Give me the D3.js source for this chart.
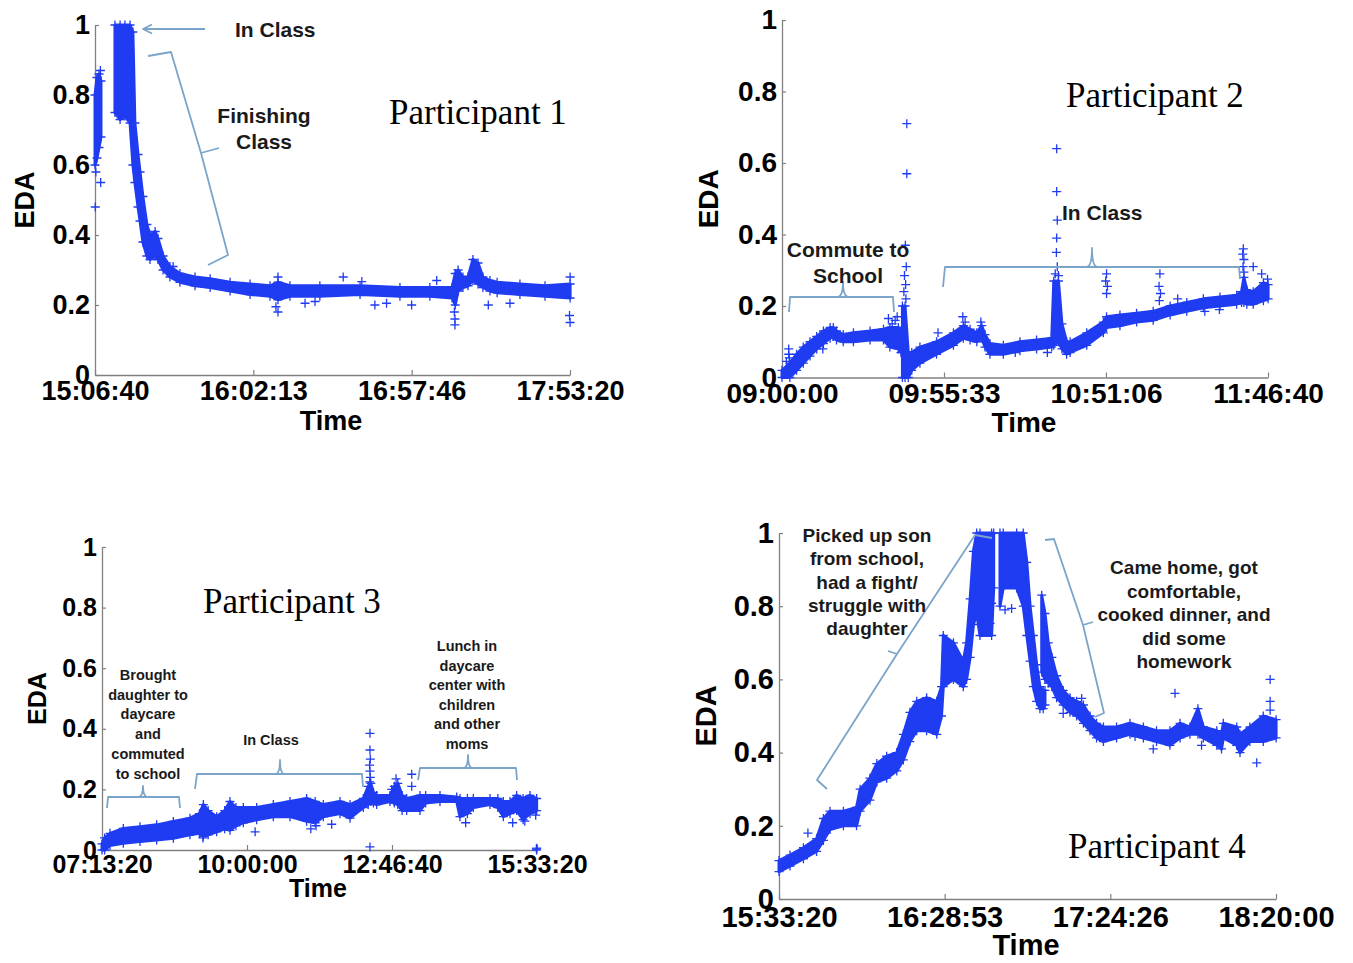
<!DOCTYPE html>
<html>
<head>
<meta charset="utf-8">
<script src="https://cdn.jsdelivr.net/npm/d3@7"></script>
<style>
  html, body { margin: 0; padding: 0; background: #fff; }
  svg { display: block; }
</style>
</head>
<body>
<svg id="chart" width="1353" height="963"></svg>
<script>
// ---- data (time = minutes after first tick, value = EDA) ----
const yTickValues = [0, 0.2, 0.4, 0.6, 0.8, 1];

const p1Ticks = ["15:06:40", "16:02:13", "16:57:46", "17:53:20"];
const p2Ticks = ["09:00:00", "09:55:33", "10:51:06", "11:46:40"];
const p3Ticks = ["07:13:20", "10:00:00", "12:46:40", "15:33:20"];
const p4Ticks = ["15:33:20", "16:28:53", "17:24:26", "18:20:00"];

// dense parts of each recording: [minute, low, high]
const p1Bands = [
  [[0, 0.60, 0.80], [0.7, 0.62, 0.85], [1.4, 0.65, 0.86], [2.1, 0.68, 0.84]],
  [[7.0, 0.75, 1.0], [8.8, 0.73, 1.0], [10.5, 0.74, 1.0], [12.3, 0.72, 1.0], [13.3, 0.60, 0.98],
   [14.0, 0.55, 0.72], [15.1, 0.48, 0.63], [15.8, 0.44, 0.58], [16.8, 0.38, 0.51], [18.2, 0.34, 0.43],
   [19.3, 0.33, 0.40], [21.1, 0.34, 0.41], [22.1, 0.33, 0.39], [23.9, 0.30, 0.34], [26.3, 0.28, 0.31],
   [29.8, 0.265, 0.29], [35.1, 0.255, 0.28], [40.4, 0.25, 0.275], [47.4, 0.24, 0.265], [54.4, 0.23, 0.26],
   [61.4, 0.225, 0.255], [64.2, 0.215, 0.265], [68.4, 0.225, 0.255], [78.9, 0.225, 0.255], [93.0, 0.23, 0.255],
   [107.0, 0.225, 0.25], [117.5, 0.225, 0.25], [125.3, 0.22, 0.25], [126.4, 0.20, 0.29], [127.4, 0.24, 0.30],
   [129.1, 0.25, 0.28], [130.9, 0.255, 0.28], [132.6, 0.27, 0.33], [134.4, 0.26, 0.32], [136.1, 0.25, 0.28],
   [138.6, 0.24, 0.27], [141.1, 0.235, 0.265], [149.1, 0.23, 0.26], [157.9, 0.225, 0.255], [166.7, 0.22, 0.26]]
];
const p1Points = [[0.1, 0.48], [0.3, 0.58], [1.9, 0.87], [2.0, 0.55], [27.4, 0.31], [63.5, 0.195], [64.2, 0.18],
  [64.2, 0.28], [73.7, 0.205], [77.2, 0.21], [87.1, 0.28], [93.6, 0.267], [98.2, 0.20], [102.3, 0.205],
  [111.1, 0.20], [119.9, 0.27], [126.3, 0.143], [126.3, 0.16], [126.1, 0.18], [138.0, 0.20], [145.6, 0.205],
  [166.7, 0.28], [166.7, 0.15], [166.5, 0.17]];

const p2Bands = [
  [[0, 0.0, 0.02], [2.7, 0.0, 0.04], [5.0, 0.02, 0.065], [7.3, 0.04, 0.085], [9.6, 0.06, 0.10],
   [11.9, 0.08, 0.115], [14.2, 0.095, 0.13], [16.5, 0.11, 0.14], [17.6, 0.115, 0.14], [18.7, 0.105, 0.13],
   [21.0, 0.10, 0.12], [24.5, 0.10, 0.125], [30.2, 0.105, 0.13], [34.8, 0.105, 0.135], [37.0, 0.085, 0.14],
   [39.9, 0.08, 0.14], [40.8, 0.07, 0.13]],
  [[41.3, 0.0, 0.2], [42.2, 0.0, 0.2], [43.3, 0.0, 0.07], [44.5, 0.02, 0.07], [47.3, 0.04, 0.085],
   [53.0, 0.065, 0.10], [58.8, 0.09, 0.125], [62.2, 0.11, 0.145], [64.5, 0.105, 0.135], [66.8, 0.10, 0.125],
   [68.5, 0.11, 0.145], [69.6, 0.085, 0.12], [71.3, 0.065, 0.095], [75.9, 0.065, 0.09], [81.6, 0.075, 0.10],
   [87.3, 0.08, 0.105], [92.5, 0.085, 0.11], [93.2, 0.09, 0.27], [94.8, 0.10, 0.27], [96.0, 0.08, 0.15],
   [97.6, 0.065, 0.10], [98.8, 0.07, 0.10], [104.5, 0.09, 0.125], [110.2, 0.125, 0.155], [111.3, 0.14, 0.17],
   [115.9, 0.145, 0.175], [121.6, 0.155, 0.18], [127.3, 0.16, 0.185], [133.1, 0.175, 0.20], [138.8, 0.185, 0.21],
   [144.5, 0.195, 0.22], [150.2, 0.20, 0.225], [155.9, 0.205, 0.23], [157.6, 0.21, 0.24], [158.4, 0.21, 0.28],
   [159.4, 0.205, 0.245], [161.6, 0.205, 0.24], [165.1, 0.215, 0.265], [166.7, 0.22, 0.26]]
];
const p2Points = [[1.5, 0.045], [2.3, 0.08], [2.3, 0.065], [2.5, 0.055], [14.0, 0.08], [36.5, 0.165], [37.8, 0.15],
  [38.8, 0.16], [39.5, 0.17], [42.8, 0.71], [42.8, 0.57], [42.3, 0.37], [42.6, 0.31], [42.0, 0.285], [42.4, 0.26],
  [41.8, 0.24], [42.5, 0.22], [53.5, 0.125], [62.0, 0.17], [62.8, 0.155], [68.2, 0.155], [80.0, 0.07], [91.0, 0.07],
  [94.2, 0.64], [94.2, 0.52], [94.4, 0.44], [94.2, 0.39], [94.1, 0.35], [94.4, 0.31], [93.7, 0.29], [94.8, 0.285],
  [111.3, 0.29], [111.0, 0.27], [111.6, 0.255], [111.3, 0.235], [129.6, 0.29], [129.3, 0.255], [129.8, 0.235],
  [129.4, 0.215], [135.7, 0.22], [145.0, 0.185], [150.0, 0.19], [158.2, 0.36], [158.0, 0.345], [158.4, 0.33],
  [158.1, 0.31], [158.4, 0.295], [161.6, 0.31], [164.5, 0.29], [166.5, 0.275]];

const p3Bands = [
  [[0, 0.0, 0.02], [3, 0.0, 0.04], [9.2, 0.015, 0.055], [24.5, 0.022, 0.071], [43.7, 0.028, 0.077],
   [62.8, 0.033, 0.083], [82.0, 0.039, 0.094], [101.1, 0.05, 0.105], [112, 0.055, 0.12], [116.5, 0.045, 0.15],
   [122, 0.05, 0.13], [131.8, 0.06, 0.11], [141, 0.07, 0.13], [147.1, 0.065, 0.16], [154, 0.08, 0.14],
   [162.5, 0.09, 0.14], [177.8, 0.10, 0.14], [196.9, 0.11, 0.15], [216.1, 0.11, 0.16], [235.2, 0.095, 0.17],
   [245, 0.09, 0.16], [254.4, 0.11, 0.15], [273.6, 0.12, 0.16], [285.1, 0.105, 0.15], [300.4, 0.14, 0.17],
   [306, 0.15, 0.21], [309, 0.16, 0.22], [312, 0.155, 0.19], [315.7, 0.15, 0.18], [331.0, 0.16, 0.18],
   [336, 0.155, 0.21], [340, 0.15, 0.22], [345, 0.13, 0.18], [350.2, 0.13, 0.17], [365.5, 0.13, 0.18],
   [372, 0.155, 0.18], [388.5, 0.16, 0.18], [407.7, 0.16, 0.175], [411.5, 0.11, 0.17], [420, 0.12, 0.17],
   [426.8, 0.14, 0.17], [446.0, 0.15, 0.17], [455, 0.14, 0.17], [461.3, 0.11, 0.16], [469.0, 0.12, 0.16],
   [476.6, 0.13, 0.18], [484, 0.10, 0.17], [492.0, 0.12, 0.18], [499.6, 0.13, 0.17]]
];
const p3Points = [[116, 0.04], [176, 0.06], [240, 0.07], [246, 0.08], [264, 0.085], [308, 0.385], [308, 0.33],
  [308.4, 0.30], [307.6, 0.28], [308, 0.26], [308.4, 0.24], [307.8, 0.225], [308, 0.01], [333, 0.20], [338, 0.235],
  [356, 0.25], [356, 0.21], [418, 0.09], [472, 0.09], [486, 0.095], [498.5, 0.115], [499.6, 0.0], [499.3, 0.004],
  [499.8, 0.006]];

const p4Bands = [
  [[0, 0.075, 0.105], [3.7, 0.09, 0.12], [8.2, 0.11, 0.14], [12.6, 0.13, 0.165], [14.9, 0.16, 0.22],
   [17.1, 0.19, 0.24], [21.6, 0.20, 0.24], [26.0, 0.20, 0.25], [27.2, 0.24, 0.30], [30.5, 0.27, 0.33],
   [32.8, 0.32, 0.37], [36.1, 0.33, 0.39], [39.5, 0.35, 0.40], [41.7, 0.38, 0.45], [43.9, 0.43, 0.51],
   [46.2, 0.46, 0.54], [49.5, 0.46, 0.55], [52.9, 0.45, 0.54], [54.5, 0.50, 0.58], [55.1, 0.58, 0.72],
   [58.5, 0.60, 0.70], [61.8, 0.58, 0.65], [62.9, 0.60, 0.70], [64.1, 0.66, 0.82], [65.2, 0.75, 0.95],
   [66.3, 0.78, 1.0], [67.4, 0.72, 1.0], [71.3, 0.72, 1.0], [72.0, 0.85, 1.0]],
  [[74.1, 0.80, 1.0], [75.2, 0.85, 1.0], [79.7, 0.85, 1.0], [81.9, 0.80, 1.0], [83.1, 0.72, 0.92],
   [84.2, 0.65, 0.80], [85.3, 0.58, 0.72], [86.4, 0.54, 0.64], [87.5, 0.52, 0.58], [88.6, 0.52, 0.57],
   [89.2, 0.53, 0.57]],
  [[88.1, 0.62, 0.83], [89.2, 0.60, 0.78], [90.3, 0.59, 0.70], [91.5, 0.58, 0.66], [93.1, 0.55, 0.61],
   [95.3, 0.53, 0.57], [97.6, 0.51, 0.55], [99.8, 0.50, 0.54], [102.1, 0.48, 0.53], [104.3, 0.46, 0.50],
   [106.5, 0.44, 0.48], [108.8, 0.43, 0.47], [113.2, 0.44, 0.47], [117.7, 0.45, 0.48], [122.2, 0.44, 0.47],
   [126.6, 0.43, 0.46], [131.1, 0.42, 0.46], [134.5, 0.44, 0.48], [137.8, 0.45, 0.47], [140.5, 0.45, 0.52],
   [142.3, 0.44, 0.47], [146.8, 0.42, 0.46], [148.4, 0.41, 0.45], [149.0, 0.44, 0.48], [153.5, 0.42, 0.47],
   [154.6, 0.40, 0.45], [157.9, 0.43, 0.47], [162.4, 0.43, 0.50], [166.7, 0.44, 0.49]]
];
const p4Points = [[9.7, 0.18], [55.7, 0.60], [70.8, 0.753], [71.3, 0.808], [75.8, 0.79], [78.0, 0.794],
  [95.3, 0.507], [101.5, 0.548], [119.4, 0.444], [125.5, 0.41], [132.8, 0.562], [141.7, 0.42], [160.2, 0.372],
  [164.7, 0.60], [164.7, 0.54], [164.7, 0.516]];

const p1Notes = [["In Class"], ["Finishing", "Class"]];
const p2Notes = [["Commute to", "School"], ["In Class"]];
const p3Notes = [["Brought", "daughter to", "daycare", "and", "commuted", "to school"], ["In Class"],
  ["Lunch in", "daycare", "center with", "children", "and other", "moms"]];
const p4Notes = [["Picked up son", "from school,", "had a fight/", "struggle with", "daughter"],
  ["Came home, got", "comfortable,", "cooked dinner, and", "did some", "homework"]];

// ---- layout ----
const SANS = "'Liberation Sans', Arial, sans-serif";
const SERIF = "'Liberation Serif', 'Times New Roman', serif";
const BLUE = "#1f3cf2";
const NOTE = "#7ba4c9";
const AXIS = "#808080";

const panels = [
  { title: "Participant 1", ticks: p1Ticks, bands: p1Bands, points: p1Points,
    x0: 95, x1: 570, yb: 375, yt: 25, tickFont: 27, tickPad: 6,
    titleX: 389, titleY: 124, timeX: 331, timeY: 430, edaX: 34,
    notes: [
      { lines: p1Notes[0], x: 235, y: 37, size: 21, anchor: "start" },
      { lines: p1Notes[1], x: 264, y: 123, size: 21, lh: 26 }
    ],
    shapes: [
      "M205,29 L144,29 M152,24.5 L143,29 L152,33.5",
      "M148,56 L171,52 L201,153 L219,148 M201,153 L228,255 L208,265"
    ] },
  { title: "Participant 2", ticks: p2Ticks, bands: p2Bands, points: p2Points,
    x0: 782, x1: 1268, yb: 377.5, yt: 20, tickFont: 28, tickPad: 6,
    titleX: 1066, titleY: 107, timeX: 1024, timeY: 432, edaX: 718,
    notes: [
      { lines: p2Notes[0], x: 848, y: 257, size: 21, lh: 26 },
      { lines: p2Notes[1], x: 1062, y: 220, size: 21, anchor: "start" }
    ],
    shapes: [
      "M789,312 L790,297 L893,297 L894,312 M838,297 Q843,296 843,282 Q843,296 848,297",
      "M943,287 L945,267 L1239,267 L1240,279 M1087,267 Q1092,266 1092,248 Q1092,266 1097,267"
    ] },
  { title: "Participant 3", ticks: p3Ticks, bands: p3Bands, points: p3Points,
    x0: 102, x1: 537, yb: 850, yt: 547, tickFont: 25, tickPad: 5,
    titleX: 203, titleY: 613, timeX: 318, timeY: 897, edaX: 46,
    notes: [
      { lines: p3Notes[0], x: 148, y: 680, size: 14.5, lh: 19.7 },
      { lines: p3Notes[1], x: 271, y: 745, size: 14.5 },
      { lines: p3Notes[2], x: 467, y: 651, size: 14.5, lh: 19.6 }
    ],
    shapes: [
      "M107,808 L108,797 L179,797 L180,808 M139,797 Q143,796 143,786 Q143,796 147,797",
      "M195,789 L197,774 L362,774 L363,787 M276,774 Q280,773 280,760 Q280,773 284,774",
      "M418,780 L420,768 L516,768 L517,780 M464,768 Q468,767 468,755 Q468,767 472,768"
    ] },
  { title: "Participant 4", ticks: p4Ticks, bands: p4Bands, points: p4Points,
    x0: 779, x1: 1276, yb: 899, yt: 533, tickFont: 29, tickPad: 7,
    titleX: 1068, titleY: 858, timeX: 1026, timeY: 955, edaX: 716,
    notes: [
      { lines: p4Notes[0], x: 867, y: 542, size: 19, lh: 23.3 },
      { lines: p4Notes[1], x: 1184, y: 574, size: 19, lh: 23.5 }
    ],
    shapes: [
      "M827,789 L817,780 L897,654 L888,651 M897,654 L975,535 L992,538",
      "M1045,540 L1054,539 L1083,625 L1093,622 M1083,625 L1104,713 L1095,717"
    ] }
];

const svg = d3.select("#chart");
const parse = d3.timeParse("%H:%M:%S");
const fmt = d3.timeFormat("%H:%M:%S");
const PLUS = "M-4.5,0H4.5M0,-4.5V4.5";

panels.forEach(drawPanel);

function drawPanel(p) {
  const tickDates = p.ticks.map(parse);
  const t0 = tickDates[0];
  const when = m => new Date(t0.getTime() + m * 60000);

  const x = d3.scaleTime().domain([t0, tickDates[tickDates.length - 1]]).range([p.x0, p.x1]);
  const y = d3.scaleLinear().domain([0, 1]).range([p.yb, p.yt]);
  const g = svg.append("g");

  // axes, matlab style: left + bottom only, ticks pointing inward
  const gx = g.append("g")
    .attr("transform", `translate(0,${p.yb})`)
    .call(d3.axisBottom(x).tickValues(tickDates).tickFormat(fmt)
      .tickSizeInner(-5).tickSizeOuter(0).tickPadding(p.tickPad));
  const gy = g.append("g")
    .attr("transform", `translate(${p.x0},0)`)
    .call(d3.axisLeft(y).tickValues(yTickValues).tickFormat(d => String(d))
      .tickSizeInner(-4).tickSizeOuter(0).tickPadding(5));

  [gx, gy].forEach(a => {
    a.attr("color", AXIS)
      .attr("font-family", SANS)
      .attr("font-size", p.tickFont)
      .attr("font-weight", "bold");
    a.select(".domain").attr("stroke-width", 1.3);
    a.selectAll(".tick line").attr("stroke-width", 1.2);
    a.selectAll(".tick text").attr("fill", "#000");
  });

  // axis labels
  g.append("text")
    .attr("x", p.timeX).attr("y", p.timeY)
    .attr("text-anchor", "middle")
    .attr("font-family", SANS).attr("font-weight", "bold")
    .attr("font-size", p.tickFont)
    .text("Time");

  g.append("text")
    .attr("transform", `translate(${p.edaX},${(p.yb + p.yt) / 2}) rotate(-90)`)
    .attr("text-anchor", "middle")
    .attr("font-family", SANS).attr("font-weight", "bold")
    .attr("font-size", p.tickFont)
    .text("EDA");

  // dense EDA bands
  const area = d3.area()
    .x(d => x(when(d[0])))
    .y0(d => y(d[1]))
    .y1(d => y(d[2]));

  g.append("g").selectAll("path")
    .data(p.bands)
    .join("path")
    .attr("d", area)
    .attr("fill", BLUE)
    .attr("stroke", BLUE)
    .attr("stroke-width", 3)
    .attr("stroke-linejoin", "round");

  // '+' markers on the band edges and the loose samples
  const edgePts = [];
  p.bands.forEach(seg => seg.forEach(d => {
    edgePts.push([d[0], d[1]]);
    edgePts.push([d[0], d[2]]);
  }));

  g.append("g").selectAll("path")
    .data(edgePts.concat(p.points))
    .join("path")
    .attr("transform", d => `translate(${x(when(d[0]))},${y(d[1])})`)
    .attr("d", PLUS)
    .attr("fill", "none")
    .attr("stroke", BLUE)
    .attr("stroke-width", 1.3);

  // annotations
  g.append("g").selectAll("path")
    .data(p.shapes)
    .join("path")
    .attr("d", d => d)
    .attr("fill", "none")
    .attr("stroke", NOTE)
    .attr("stroke-width", 1.8)
    .attr("stroke-linejoin", "round");

  p.notes.forEach(n => {
    const t = g.append("text")
      .attr("font-family", SANS).attr("font-weight", "bold")
      .attr("font-size", n.size)
      .attr("fill", "#1a1a1a")
      .attr("text-anchor", n.anchor || "middle");
    n.lines.forEach((line, i) => {
      t.append("tspan")
        .attr("x", n.x)
        .attr("y", n.y + i * (n.lh || 0))
        .text(line);
    });
  });

  g.append("text")
    .attr("x", p.titleX).attr("y", p.titleY)
    .attr("font-family", SERIF)
    .attr("font-size", 35)
    .attr("fill", "#000")
    .text(p.title);
}
</script>
</body>
</html>
